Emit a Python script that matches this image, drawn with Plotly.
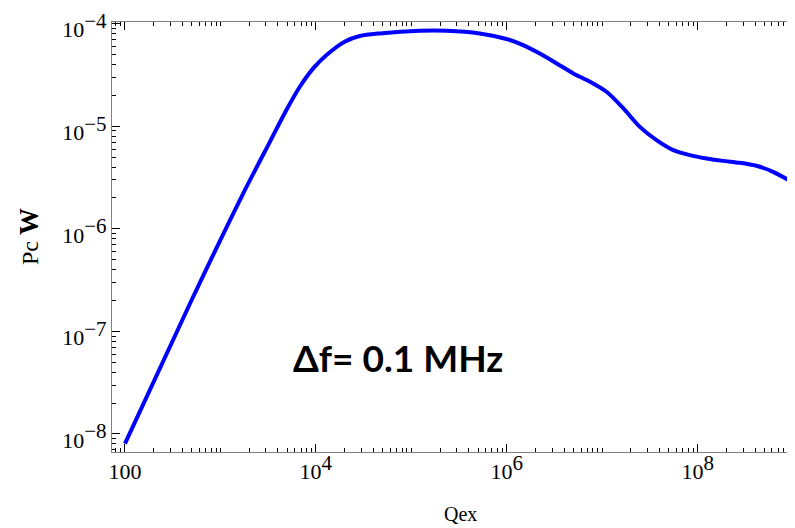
import plotly.graph_objects as go

# Data (log-log)
qex = [1.0e2, 4.80e2, 1.73e3, 3.30e3, 4.93e3, 6.79e3, 9.38e3, 1.294e4, 2.0e4,
       2.88e4, 4.68e4, 1.23e5, 2.33e5, 5.21e5, 9.93e5, 1.48e6, 2.22e6, 3.34e6,
       4.98e6, 7.45e6, 1.11e7, 1.66e7, 2.48e7, 3.71e7, 5.55e7, 8.28e7, 1.24e8,
       1.85e8, 2.75e8, 4.12e8, 6.17e8, 1.04e9]
pc = [8.05e-9, 1.87e-7, 2.21e-6, 7.06e-6, 1.45e-5, 2.43e-5, 3.67e-5, 4.95e-5, 6.68e-5,
      7.59e-5, 8.05e-5, 8.55e-5, 8.55e-5, 8.05e-5, 7.10e-5, 6.19e-5, 5.12e-5, 4.10e-5,
      3.28e-5, 2.72e-5, 2.17e-5, 1.50e-5, 9.88e-6, 7.33e-6, 5.86e-6, 5.24e-6, 4.86e-6,
      4.60e-6, 4.41e-6, 4.12e-6, 3.60e-6, 2.77e-6]

x_tickvals = [1e2, 1e4, 1e6, 1e8]
x_ticktext = ["100", "10<sup>4</sup>", "10<sup>6</sup>", "10<sup>8</sup>"]
y_tickvals = [1e-8, 1e-7, 1e-6, 1e-5, 1e-4]
y_ticktext = ["10<sup>\u22128</sup>", "10<sup>\u22127</sup>", "10<sup>\u22126</sup>",
              "10<sup>\u22125</sup>", "10<sup>\u22124</sup>"]

serif = "Liberation Serif"


def big_sup(lbl):
    return lbl.replace("<sup>", "<sup><span style='font-size:21px'>").replace("</sup>", "</span></sup>")


fig = go.Figure()
fig.add_trace(go.Scatter(x=qex, y=pc, mode="lines",
                         line=dict(color="#0000ff", width=4, shape="spline", smoothing=0.8),
                         showlegend=False))

axis_common = dict(
    showgrid=False, zeroline=False, showline=True, linecolor="#808080", linewidth=1,
    ticks="inside", ticklen=8, tickwidth=1, tickcolor="#000000", automargin=False,
    ticklabeloverflow="allow",
    tickfont=dict(family=serif, size=22, color="#000000"),
    minor=dict(ticks="inside", ticklen=4, tickwidth=1, tickcolor="#000000", dtick="D1", showgrid=False),
)

fig.update_xaxes(type="log", range=[1.864, 9.02], tickvals=x_tickvals,
                 ticktext=[big_sup(t) for t in x_ticktext], mirror="ticks", **axis_common)
fig.update_yaxes(type="log", range=[-8.176, -3.983], tickvals=y_tickvals,
                 ticktext=[big_sup(t) for t in y_ticktext], mirror=False,
                 ticklabelshift=6, **axis_common)

fig.add_annotation(xref="paper", yref="paper", x=(398 - 112) / 683, y=(452 - 382) / 430,
                   text="<b>\u0394f= 0.1 MHz</b>", showarrow=False,
                   font=dict(family="Lato", size=37, color="#000000"))
fig.add_annotation(xref="paper", yref="paper", x=(460 - 112) / 683, y=(452 - 514) / 430,
                   text="Qex", showarrow=False, yanchor="middle",
                   font=dict(family=serif, size=20, color="#000000"))
fig.add_annotation(xref="paper", yref="paper", x=(12 - 112) / 683, y=(452 - 237) / 430,
                   text="Pc <span style='font-size:27px'><b>W</b></span>", showarrow=False, textangle=-90,
                   font=dict(family=serif, size=24, color="#000000"))

# the page body adds an 8px margin, so the figure is 8px smaller each way
fig.update_layout(width=787, height=520, margin=dict(l=104, r=0, t=14, b=76),
                  plot_bgcolor="white", paper_bgcolor="white")

fig.write_html("out.html")
